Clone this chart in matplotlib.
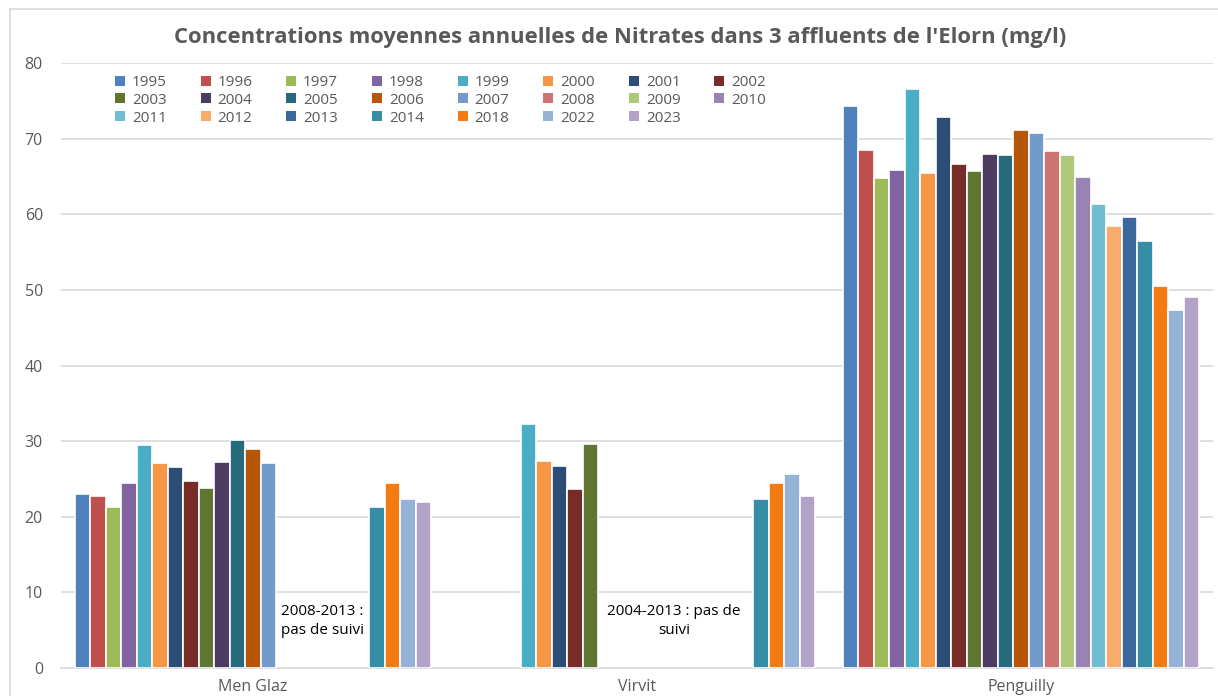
import numpy as np
import matplotlib
matplotlib.use("Agg")
import matplotlib.pyplot as plt
from matplotlib.patches import Patch, Rectangle

plt.rcParams['font.family'] = ['Open Sans', 'DejaVu Sans']

title = "Concentrations moyennes annuelles de Nitrates dans 3 affluents de l'Elorn (mg/l)"
categories = ["Men Glaz", "Virvit", "Penguilly"]
years = ["1995", "1996", "1997", "1998", "1999", "2000", "2001", "2002",
         "2003", "2004", "2005", "2006", "2007", "2008", "2009", "2010",
         "2011", "2012", "2013", "2014", "2018", "2022", "2023"]
colors = ["#4F81BD", "#C0504D", "#9BBB59", "#8064A2", "#4BACC6", "#F79646",
          "#2C4D75", "#772C2A", "#5F7530", "#4D3B62", "#276A7C", "#B65708",
          "#729ACA", "#CD7371", "#AFC97A", "#9983B5", "#6FBDD1", "#F9AB6B",
          "#3A679C", "#358EA6", "#F47A14", "#95B3D7", "#B3A2C7"]

nan = np.nan
men_glaz = [23.0, 22.8, 21.3, 24.4, 29.5, 27.1, 26.6, 24.7, 23.8, 27.2, 30.2, 28.9, 27.1,
            nan, nan, nan, nan, nan, nan, 21.3, 24.4, 22.4, 22.0]
virvit = [nan, nan, nan, nan, 32.2, 27.4, 26.7, 23.7, 29.6, nan, nan, nan, nan,
          nan, nan, nan, nan, nan, nan, 22.4, 24.4, 25.6, 22.8]
penguilly = [74.3, 68.5, 64.8, 65.9, 76.6, 65.5, 72.9, 66.7, 65.7, 68.0, 67.8, 71.2, 70.7,
             68.4, 67.9, 64.9, 61.4, 58.5, 59.7, 56.5, 50.5, 47.4, 49.0]
notes = ["2008-2013 :\npas de suivi", "2004-2013 : pas de\nsuivi"]

values = np.array([men_glaz, virvit, penguilly])  # shape (3, 23)

W, H = 1218, 696
fig = plt.figure(figsize=(W / 100, H / 100), dpi=100)
ax = fig.add_axes([61 / W, 28 / H, (1213 - 61) / W, (668 - 63) / H])

n = len(years)
group = 356 / 384
slot = group / n
x = np.arange(len(categories))
for k in range(n):
    pos = x - group / 2 + (k + 0.5) * slot
    ax.bar(pos, values[:, k], width=slot, color=colors[k], edgecolor="white",
           linewidth=1.2, zorder=3)

ax.set_xlim(-0.5, 2.5)
ax.set_ylim(0, 80)
ax.set_yticks(np.arange(0, 81, 10))
ax.set_xticks(x)
ax.set_xticklabels(categories)
ax.grid(axis="y", color="#D9D9D9", linewidth=1.2, zorder=0)
for s in ["top", "right", "left"]:
    ax.spines[s].set_visible(False)
ax.spines["bottom"].set_color("#D9D9D9")
ax.spines["bottom"].set_linewidth(1.2)
ax.tick_params(axis="both", length=0, colors="#595959", labelsize=11.5)
ax.tick_params(axis="y", pad=13)
ax.tick_params(axis="x", pad=8)

ax.text(0.18, 6.2, notes[0], ha="center", va="center", fontsize=11, color="#000000",
        linespacing=1.3, zorder=4)
ax.text(1.096, 6.2, notes[1], ha="center", va="center", fontsize=11, color="#000000",
        linespacing=1.3, zorder=4)

# legend ordered row by row (8 columns)
ncol = 8
order = [i for c in range(ncol) for i in range(c, n, ncol)]
handles = [Patch(facecolor=colors[i], edgecolor="none") for i in order]
labels = [years[i] for i in order]
leg = ax.legend(handles, labels, ncol=ncol, loc="upper left",
                bbox_to_anchor=((115 - 61) / (1213 - 61), 1 - 12 / 605),
                frameon=False, fontsize=11, handlelength=0.65, handleheight=0.65,
                handletextpad=0.45, columnspacing=2.22, labelspacing=0.18,
                borderaxespad=0, borderpad=0)
for t in leg.get_texts():
    t.set_color("#595959")

fig.text(0.5 * (173 + 1068) / W, 1 - 37 / H, title, ha="center", va="center",
         fontsize=15.8, fontweight="bold", color="#595959")

fig.patches.append(Rectangle((10 / W, -0.1), 1.2, 1 - 9 / H + 0.1, transform=fig.transFigure,
                             fill=False, edgecolor="#D9D9D9", linewidth=1.2))

fig.savefig("out.png", dpi=100)
